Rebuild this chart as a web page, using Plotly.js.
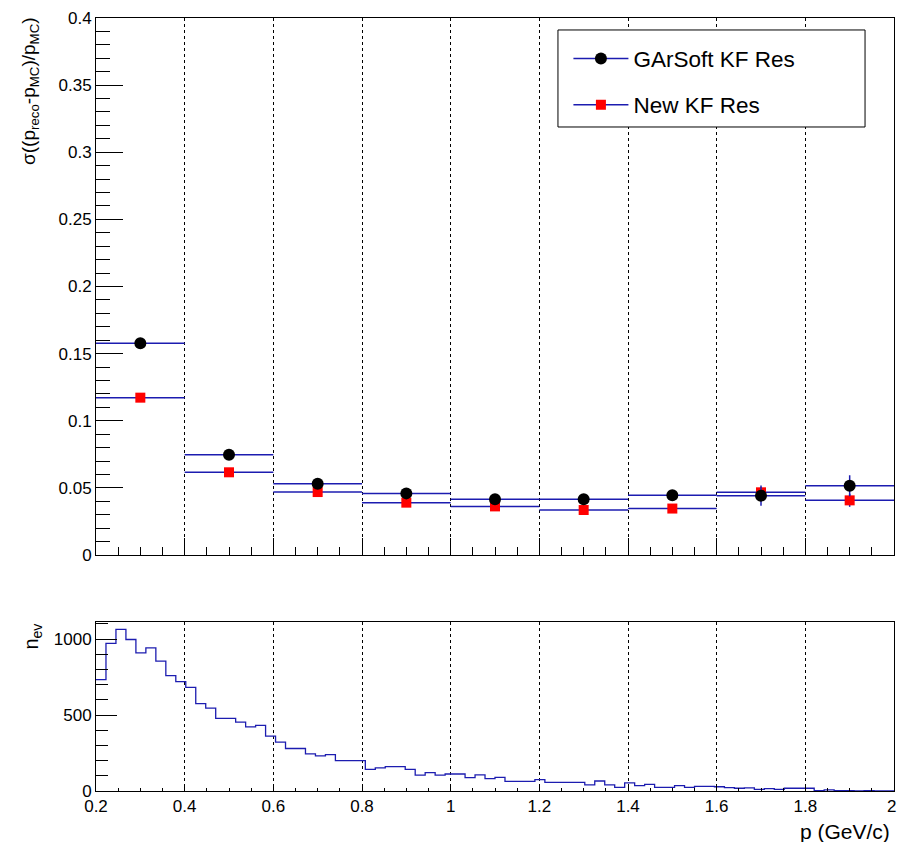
<!DOCTYPE html>
<html><head><meta charset="utf-8">
<script src="https://cdn.plot.ly/plotly-3.0.1.min.js"></script>
<style>html,body{margin:0;padding:0;background:#fff}#chart{width:897px;height:842px}</style>
</head><body><div id="chart"></div>
<script>
// ---- data ----
const binEdges = [0.2, 0.4, 0.6, 0.8, 1.0, 1.2, 1.4, 1.6, 1.8, 2.0];
const binEdgeLabels = ["0.2", "0.4", "0.6", "0.8", "1", "1.2", "1.4", "1.6", "1.8", "2\u00a0"];
const garsoftRes = [0.1577, 0.0747, 0.0531, 0.0459, 0.0415, 0.0415, 0.0445, 0.0442, 0.0516];
const garsoftErr = [0.0020, 0.0015, 0.0015, 0.0020, 0.0020, 0.0030, 0.0030, 0.0075, 0.0078];
const newkfRes   = [0.1172, 0.0616, 0.0469, 0.0390, 0.0362, 0.0335, 0.0346, 0.0467, 0.0407];
const newkfErr   = [0.0015, 0.0010, 0.0010, 0.0015, 0.0015, 0.0020, 0.0020, 0.0040, 0.0048];
const seriesNames = ["GArSoft KF Res", "New KF Res"];

const histMin = 0.2;
const histBinWidth = 0.0225;
const histCounts = [734, 972, 1064, 998, 910, 943, 855, 760, 720, 683,
  575, 546, 478, 478, 454, 423, 432, 361, 322, 280,
  280, 245, 231, 240, 200, 200, 200, 143, 152, 161,
  161, 143, 104, 121, 104, 112, 112, 88, 106, 81,
  90, 64, 64, 64, 75, 57, 57, 57, 57, 40,
  66, 40, 24, 53, 35, 44, 24, 24, 35, 24,
  30, 30, 28, 22, 18, 20, 11, 15, 11, 18,
  18, 18, 3, 8, 3, 2, 1, 2, 1, 1];

// ---- build ----
const FONT = "Liberation Sans, Arial, Helvetica, sans-serif";
const BLUE = "#1c1cb0";
const centers = binEdges.slice(0, -1).map((e, i) => (e + binEdges[i + 1]) / 2);
const halfW = binEdges.slice(0, -1).map((e, i) => (binEdges[i + 1] - e) / 2);

function interleave(arr) { const o = []; arr.forEach(v => { o.push(v); o.push(null); }); return o; }

function resTrace(vals, errs, name, symbol, color, size, rank) {
  return {
    type: "scatter", mode: "lines+markers", name: name, legendrank: rank,
    x: interleave(centers), y: interleave(vals),
    xaxis: "x2", yaxis: "y2", connectgaps: false,
    line: {color: BLUE, width: 1.5},
    marker: {symbol: symbol, color: color, size: size, line: {width: 0}},
    error_x: {type: "data", symmetric: true, array: interleave(halfW), color: BLUE, thickness: 1.5, width: 0},
    error_y: {type: "data", symmetric: true, array: interleave(errs), color: BLUE, thickness: 1.5, width: 0},
    legendgroup: name, hoverinfo: "skip"
  };
}

const histX = histCounts.map((c, i) => histMin + i * histBinWidth);
histX.push(histMin + histCounts.length * histBinWidth);
const histY = histCounts.slice(); histY.push(histCounts[histCounts.length - 1]);

const traces = [
  resTrace(newkfRes, newkfErr, seriesNames[1], "square", "#ff0000", 10, 2),
  resTrace(garsoftRes, garsoftErr, seriesNames[0], "circle", "#000000", 12, 1),
  {type: "scatter", mode: "lines", x: histX, y: histY, line: {shape: "hv", color: BLUE, width: 1.3},
   xaxis: "x", yaxis: "y", showlegend: false, hoverinfo: "skip"}
];

const axisCommon = {
  showline: true, linecolor: "#000", linewidth: 1, mirror: true,
  ticks: "inside", tickcolor: "#000", tickwidth: 1,
  zeroline: false, tickfont: {family: FONT, size: 17, color: "#000"},
  ticklabeloverflow: "allow"
};

const layout = {
  width: 897, height: 842,
  margin: {l: 96, r: 3, t: 18, b: 51},
  paper_bgcolor: "#fff", plot_bgcolor: "#fff",
  font: {family: FONT, color: "#000"},
  showlegend: true,
  legend: {x: 0.592, y: 0.975, xanchor: "left", yanchor: "top", bgcolor: "rgba(0,0,0,0)", borderwidth: 0,
    font: {family: FONT, size: 22.5, color: "#000"}, traceorder: "grouped", tracegroupgap: 14, itemwidth: 55},
  xaxis: Object.assign({}, axisCommon, {
    domain: [0, 1], anchor: "y", range: [0.2, 2.0], tickmode: "array", tickvals: binEdges, ticktext: binEdgeLabels,
    ticklen: 7,
    showgrid: true, gridcolor: "#000", griddash: "dot", gridwidth: 1,
    minor: {dtick: 0.05, tick0: 0.2, ticklen: 3, ticks: "inside", tickcolor: "#000", showgrid: false}
  }),
  yaxis: Object.assign({}, axisCommon, {
    domain: [0, 0.2186], anchor: "x", range: [0, 1113], tick0: 0, dtick: 500, ticklen: 21,
    showgrid: false,
    minor: {dtick: 100, ticklen: 12, ticks: "inside", tickcolor: "#000", showgrid: false}
  }),
  xaxis2: Object.assign({}, axisCommon, {
    domain: [0, 1], anchor: "y2", matches: "x", range: [0.2, 2.0], tickmode: "array", tickvals: binEdges,
    ticklen: 17, showticklabels: false,
    showgrid: true, gridcolor: "#000", griddash: "dot", gridwidth: 1,
    minor: {dtick: 0.05, tick0: 0.2, ticklen: 8, ticks: "inside", tickcolor: "#000", showgrid: false}
  }),
  yaxis2: Object.assign({}, axisCommon, {
    domain: [0.3053, 1], anchor: "x2", range: [0, 0.4], tick0: 0, dtick: 0.05, ticklen: 27,
    showgrid: false,
    minor: {dtick: 0.01, ticklen: 14, ticks: "inside", tickcolor: "#000", showgrid: false}
  }),
  shapes: [{type: "rect", xref: "paper", yref: "paper", x0: 0.5789, x1: 0.9637, y0: 0.859, y1: 0.9845,
    line: {color: "#000", width: 1}, fillcolor: "#fff", layer: "above"}],
  annotations: [
    {text: "σ((p<sub>reco</sub>-p<sub>MC</sub>)/p<sub>MC</sub>)", textangle: -90, xref: "paper", yref: "paper",
     x: -0.082, y: 0.905, xanchor: "center", yanchor: "middle", showarrow: false, font: {family: FONT, size: 19}},
    {text: "n<sub>ev</sub>", textangle: -90, xref: "paper", yref: "paper",
     x: -0.08, y: 0.2, xanchor: "center", yanchor: "middle", showarrow: false, font: {family: FONT, size: 20}},
    {text: "p (GeV/c)", xref: "paper", yref: "paper", x: 0.998, y: -0.053, xanchor: "right", yanchor: "middle",
     showarrow: false, font: {family: FONT, size: 21}}
  ]
};

Plotly.newPlot("chart", traces, layout, {displayModeBar: false, staticPlot: true});
</script></body></html>
